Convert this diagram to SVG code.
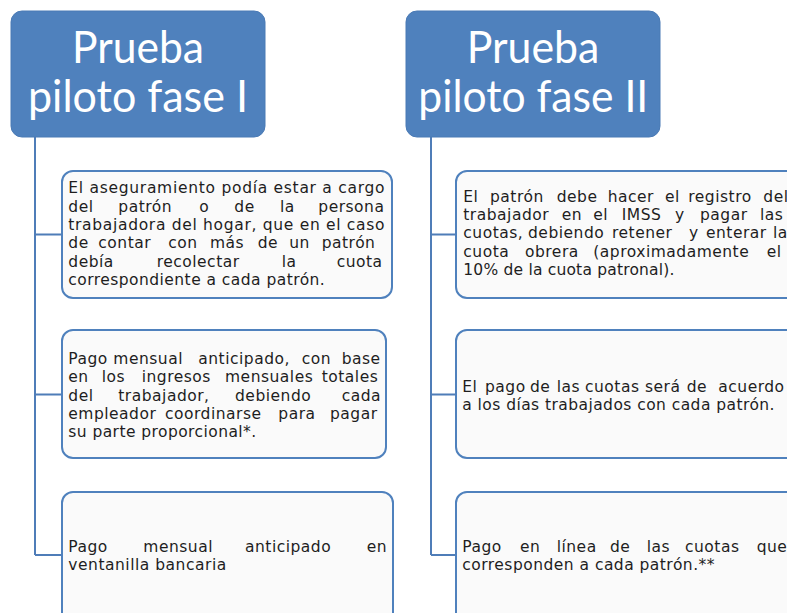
<svg xmlns="http://www.w3.org/2000/svg" width="787" height="613" viewBox="0 0 787 613">
<style>
.hdr{fill:#4F81BD;stroke:#4A7AB5;stroke-width:1}
.ht{font-family:Lato,"Open Sans","Liberation Sans",sans-serif;font-size:44px;fill:#ffffff;text-anchor:middle}
.box{fill:#FAFAFA;stroke:#4F81BD;stroke-width:2}
.bt{font-family:"DejaVu Sans","Noto Sans",sans-serif;font-size:15.5px;letter-spacing:0.5px;fill:#1e1e1e}
.con{fill:none;stroke:#4F7DB8;stroke-width:2}
</style>
<rect width="787" height="613" fill="#ffffff"/>
<g id="connectors">
<path class="con" d="M35,137 V555 M35,234.5 H62 M35,394.5 H62 M35,555 H62"/>
<path class="con" d="M431,137 V555 M431,234.5 H456 M431,394.5 H456 M431,555 H456"/>
</g>
<g id="fase1">
<rect class="hdr" x="11" y="11" width="254" height="126" rx="11"/>
<text class="ht" x="138" y="62.5" textLength="132" lengthAdjust="spacingAndGlyphs">Prueba</text>
<text class="ht" x="138" y="111.7" textLength="220" lengthAdjust="spacingAndGlyphs">piloto fase I</text>
</g>
<g id="fase2">
<rect class="hdr" x="406" y="11" width="254" height="126" rx="11"/>
<text class="ht" x="533" y="62.5" textLength="132.7" lengthAdjust="spacingAndGlyphs">Prueba</text>
<text class="ht" x="533.3" y="111.7" textLength="230" lengthAdjust="spacingAndGlyphs">piloto fase II</text>
</g>
<g id="f1-aseguramiento">
<rect class="box" x="62" y="171" width="330" height="127" rx="11"/>
<text class="bt" x="68.3" y="193.3" textLength="316.7">El aseguramiento podía estar a cargo</text>
<text class="bt" y="211.7"><tspan x="68.3">del</tspan><tspan x="118.3">patrón</tspan><tspan x="199.3">o</tspan><tspan x="234.3">de</tspan><tspan x="280">la</tspan><tspan x="318.3">persona</tspan></text>
<text class="bt" x="68.3" y="230" textLength="316.7">trabajadora del hogar, que en el caso</text>
<text class="bt" y="248.3"><tspan x="68.3">de</tspan><tspan x="98.3">contar</tspan><tspan x="168.3">con</tspan><tspan x="210">más</tspan><tspan x="257.7">de</tspan><tspan x="289.3">un</tspan><tspan x="321.7">patrón</tspan></text>
<text class="bt" y="266.7"><tspan x="68.3">debía</tspan><tspan x="156.7">recolectar</tspan><tspan x="281.7">la</tspan><tspan x="336.7">cuota</tspan></text>
<text class="bt" x="68.3" y="285" textLength="257">correspondiente a cada patrón.</text>
</g>
<g id="f1-pago-mensual">
<rect class="box" x="62" y="330" width="324" height="128" rx="11"/>
<text class="bt" y="363.8"><tspan x="68.3">Pago</tspan><tspan x="113.3">mensual</tspan><tspan x="198.3">anticipado,</tspan><tspan x="301.7">con</tspan><tspan x="341.7">base</tspan></text>
<text class="bt" y="382.2"><tspan x="68.3">en</tspan><tspan x="101.7">los</tspan><tspan x="141.7">ingresos</tspan><tspan x="225">mensuales</tspan><tspan x="321.7">totales</tspan></text>
<text class="bt" y="400.5"><tspan x="68.3">del</tspan><tspan x="118.3">trabajador,</tspan><tspan x="235">debiendo</tspan><tspan x="341.7">cada</tspan></text>
<text class="bt" y="418.8"><tspan x="68.3">empleador</tspan><tspan x="165">coordinarse</tspan><tspan x="278.3">para</tspan><tspan x="330">pagar</tspan></text>
<text class="bt" x="68.3" y="437.2" textLength="188.4">su parte proporcional*.</text>
</g>
<g id="f1-ventanilla">
<rect class="box" x="62" y="492" width="331" height="140" rx="11"/>
<text class="bt" y="551.7"><tspan x="68.3">Pago</tspan><tspan x="143.3">mensual</tspan><tspan x="245">anticipado</tspan><tspan x="366.7">en</tspan></text>
<text class="bt" x="68.3" y="570" textLength="158.4">ventanilla bancaria</text>
</g>
<g id="f2-registro">
<rect class="box" x="456" y="171" width="345" height="127" rx="11"/>
<text class="bt" y="201.7"><tspan x="463.3">El</tspan><tspan x="490">patrón</tspan><tspan x="556.7">debe</tspan><tspan x="607.7">hacer</tspan><tspan x="665">el</tspan><tspan x="688.3">registro</tspan><tspan x="763.3">del</tspan></text>
<text class="bt" y="220"><tspan x="463.3">trabajador</tspan><tspan x="561.7">en</tspan><tspan x="593.3">el</tspan><tspan x="621.7">IMSS</tspan><tspan x="675">y</tspan><tspan x="700">pagar</tspan><tspan x="760">las</tspan></text>
<text class="bt" y="238.3"><tspan x="463.3">cuotas,</tspan><tspan x="528">debiendo</tspan><tspan x="612">retener</tspan><tspan x="689">y</tspan><tspan x="706">enterar</tspan><tspan x="773">la</tspan></text>
<text class="bt" y="256.7"><tspan x="463.3">cuota</tspan><tspan x="525">obrera</tspan><tspan x="593.3">(aproximadamente</tspan><tspan x="766.7">el</tspan></text>
<text class="bt" x="463.3" y="275" textLength="211.7">10% de la cuota patronal).</text>
</g>
<g id="f2-dias">
<rect class="box" x="456" y="330" width="345" height="128" rx="11"/>
<text class="bt" y="391.7"><tspan x="462.3">El</tspan><tspan x="485">pago</tspan><tspan x="530">de</tspan><tspan x="556.7">las</tspan><tspan x="585">cuotas</tspan><tspan x="645">será</tspan><tspan x="686.7">de</tspan><tspan x="718.3">acuerdo</tspan></text>
<text class="bt" x="462.3" y="410" textLength="312.7">a los días trabajados con cada patrón.</text>
</g>
<g id="f2-linea">
<rect class="box" x="456" y="492" width="345" height="140" rx="11"/>
<text class="bt" y="551.7"><tspan x="462.3">Pago</tspan><tspan x="520">en</tspan><tspan x="556.7">línea</tspan><tspan x="610">de</tspan><tspan x="646.7">las</tspan><tspan x="685">cuotas</tspan><tspan x="756.7">que</tspan></text>
<text class="bt" x="462.3" y="570" textLength="252.7">corresponden a cada patrón.**</text>
</g>
</svg>
